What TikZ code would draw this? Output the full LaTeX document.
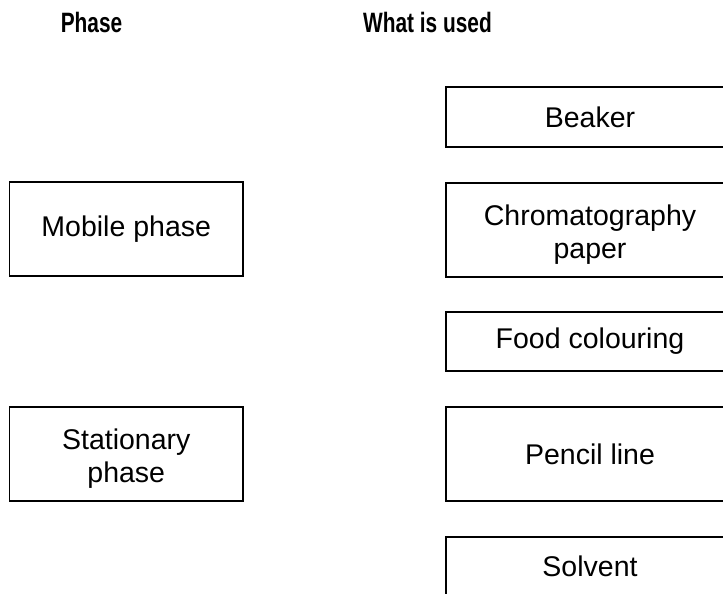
\documentclass[tikz,border=0pt]{standalone}
\usepackage{fontspec}
\usepackage{graphicx}
\setmainfont{Liberation Sans}
\begin{document}
\begin{tikzpicture}[x=1pt,y=-1pt,
  box/.style={draw, line width=1.6pt, inner sep=0pt, align=center,
    font=\fontsize{28.5}{33}\selectfont},
  lab/.style={inner sep=0pt, align=center, font=\fontsize{28.5}{33}\selectfont},
  head/.style={anchor=base, inner sep=0pt, font=\fontsize{28}{33}\selectfont\bfseries}]
\useasboundingbox (0,0) rectangle (723,594);
\node[head] (h1) at (91.5,33) {\scalebox{0.745}[1]{Phase}};
\node[head] (h2) at (427.5,33) {\scalebox{0.745}[1]{What is used}};
\node[box, minimum width=233.5pt, minimum height=94pt] (mob) at (126.25,229) {Mobile phase};
\node[box, minimum width=233.5pt, minimum height=94pt] (sta) at (126.25,454) {};
\node[lab] (stal) at ([yshift=-4.5pt]sta.center) {Stationary\\phase};
\node[box, minimum width=288pt, minimum height=60pt] (bea) at (590,117) {Beaker};
\node[box, minimum width=288pt, minimum height=94pt] (chr) at (590,230) {};
\node[lab] (chrl) at ([yshift=-4.5pt]chr.center) {Chromatography\\paper};
\node[box, minimum width=288pt, minimum height=59pt] (foo) at (590,341.5) {Food colouring};
\node[box, minimum width=288pt, minimum height=94pt] (pen) at (590,454) {Pencil line};
\node[box, minimum width=288pt, minimum height=59pt] (sol) at (590,566.5) {Solvent};
\end{tikzpicture}
\end{document}
